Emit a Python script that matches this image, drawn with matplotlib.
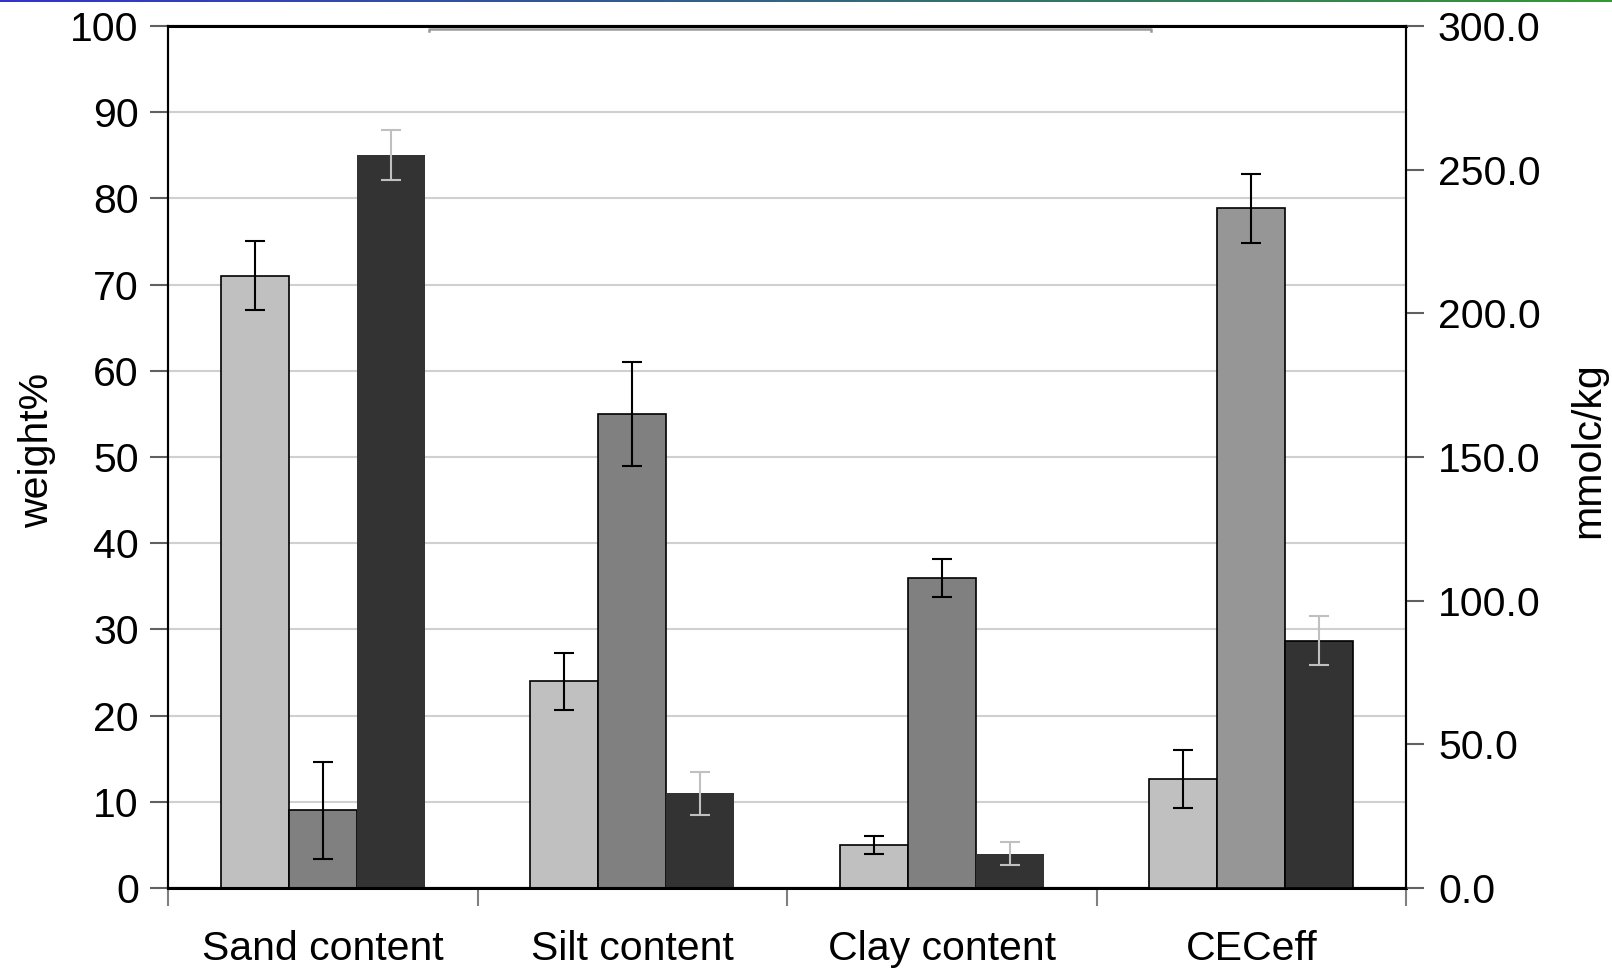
import numpy as np
import matplotlib
matplotlib.use("Agg")
import matplotlib.pyplot as plt

plt.rcParams['font.family'] = ['Liberation Sans', 'DejaVu Sans']

categories = ["Sand content", "Silt content", "Clay content", "CECeff"]

# weight% (left axis): sand, silt, clay
light = [71, 24, 5]
light_err = [4.0, 3.3, 1.0]
medium = [9, 55, 36]
medium_err = [5.6, 6.0, 2.2]
dark = [85, 11, 4]
dark_err = [2.9, 2.5, 1.3]

# CECeff in mmolc/kg (right axis)
cec = [38, 236.5, 86]
cec_err = [10, 12, 8.5]

c_light, c_med, c_dark, c_cec = "#c0c0c0", "#808080", "#333333", "#969696"
w = 0.22
fs = 29.5

fig = plt.figure(figsize=(16.12, 9.72), dpi=100)
ax = fig.add_axes([168/1612, 1-888/972, (1406-168)/1612, (888-26)/972])
ax2 = ax.twinx()

x = np.arange(3)
ekw = dict(elinewidth=1.5, capthick=1.5)
ax.bar(x - w, light, w, color=c_light, edgecolor="black", lw=1.2, zorder=3)
ax.errorbar(x - w, light, yerr=light_err, fmt="none", ecolor="black", capsize=7, zorder=4, **ekw)
ax.bar(x, medium, w, color=c_med, edgecolor="black", lw=1.2, zorder=3)
ax.errorbar(x, medium, yerr=medium_err, fmt="none", ecolor="black", capsize=7, zorder=4, **ekw)
ax.bar(x + w, dark, w, color=c_dark, lw=0, zorder=3)
ax.errorbar(x + w, dark, yerr=dark_err, fmt="none", ecolor="#c0c0c0", capsize=7, zorder=4, **ekw)

xc = 3 + np.array([-w, 0, w])
ax2.bar(xc, cec, w, color=[c_light, c_cec, c_dark], edgecolor="black", lw=1.2, zorder=3)
ax2.errorbar(xc[:2], cec[:2], yerr=cec_err[:2], fmt="none", ecolor="black", capsize=7, zorder=4, **ekw)
ax2.errorbar(xc[2:], cec[2:], yerr=cec_err[2:], fmt="none", ecolor="#c0c0c0", capsize=7, zorder=4, **ekw)

ax.set_xlim(-0.5, 3.5)
ax.set_ylim(0, 100)
ax2.set_ylim(0, 300)
ax.set_yticks(np.arange(0, 101, 10))
ax2.set_yticks(np.arange(0, 301, 50))
ax2.set_yticklabels([f"{v:.1f}" for v in np.arange(0, 301, 50)])
ax.yaxis.grid(True, color="#d0d0d0", lw=1.5, zorder=0)
ax.set_axisbelow(True)

ax.set_xticks(np.arange(-0.5, 3.6, 1))
ax.set_xticklabels([])
ax.set_xticks(np.arange(4), minor=True)
ax.set_xticklabels(categories, minor=True)
ax.tick_params(axis="x", which="major", length=13, width=1.5, color="#808080", direction="out")
ax.tick_params(axis="x", which="minor", length=0, pad=30, labelsize=fs)
ax.tick_params(axis="y", length=13, width=1.5, color="#606060", pad=8, labelsize=fs)
ax2.tick_params(axis="y", length=13, width=1.5, color="#606060", pad=10, labelsize=fs)

for a in (ax, ax2):
    for s in a.spines.values():
        s.set_color("black")
        s.set_linewidth(1.5)
ax.spines["bottom"].set_linewidth(2.2)
ax.spines["top"].set_linewidth(2.2)

# stray grey line just under the top frame
ax.plot([0.2106, 0.2106, 0.794, 0.794], [0.994, 0.9965, 0.9965, 0.994], transform=ax.transAxes,
        color="#999999", lw=1.8, clip_on=False, zorder=5)

fig.text(37/1612, 1-450/972, "weight%", rotation=90, ha="center", va="center", fontsize=fs)
fig.text(1588/1612, 1-450/972, "mmolc/kg", rotation=90, ha="center", va="center", fontsize=fs)

# thin gradient band at the very top of the picture
gax = fig.add_axes([0, 1-2.5/972, 1, 2.5/972])
grad = np.linspace(0, 1, 256)
cols = np.array([[0x33/255, 0x33/255, 0xcc/255]]) * (1-grad[:, None]) + np.array([[0x33/255, 0x99/255, 0x33/255]]) * grad[:, None]
gax.imshow(cols[None, :, :], aspect="auto")
gax.axis("off")

fig.savefig("out.png", dpi=100)
